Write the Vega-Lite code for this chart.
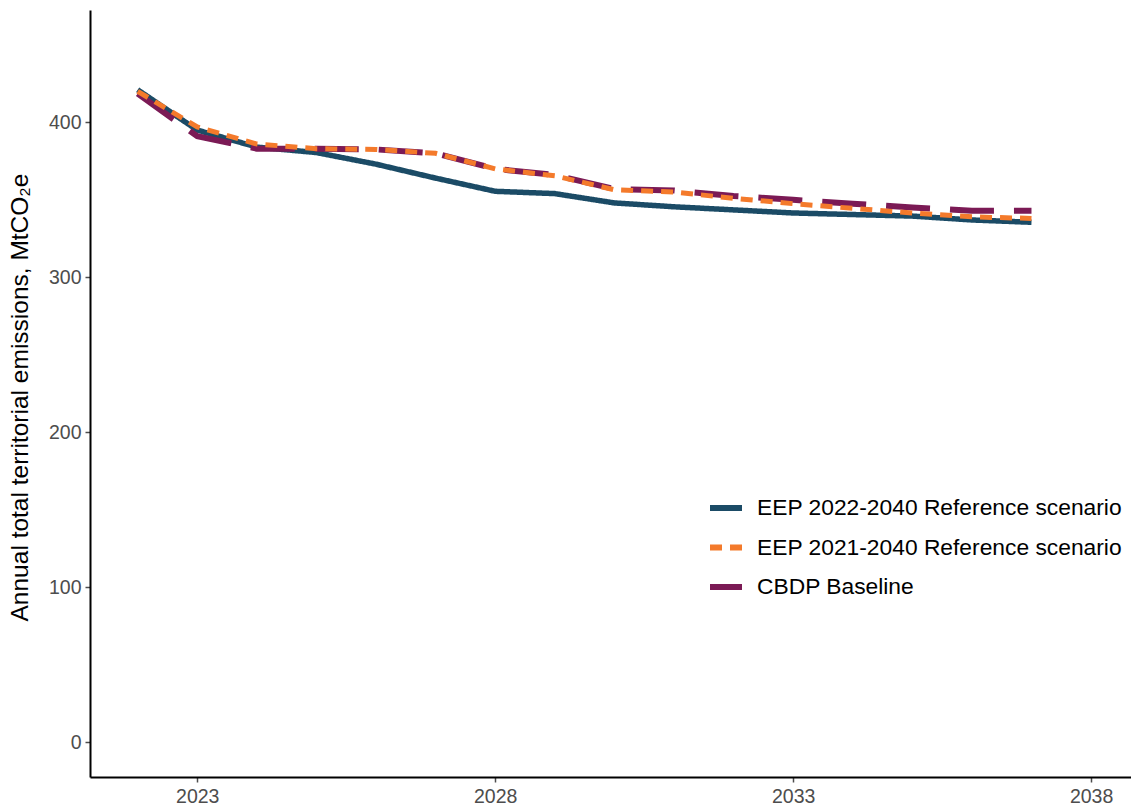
{
  "$schema": "https://vega.github.io/schema/vega-lite/v6.json",
  "width": 1041,
  "height": 767,
  "autosize": {"type": "none"},
  "padding": {"left": 90, "top": 10, "right": 0, "bottom": 34},
  "background": "white",
  "config": {
    "font": "Liberation Sans",
    "view": {"stroke": null},
    "axis": {"grid": false, "domainColor": "#000000", "domainWidth": 2, "tickColor": "#4D4D4D", "tickSize": 5, "tickWidth": 1.5, "labelColor": "#4D4D4D", "labelFontSize": 19.5, "labelPadding": 4, "titleColor": "#000000", "titleFontWeight": "normal"}
  },
  "data": {"values": [
    {"year": 2022, "value": 421, "series": "EEP 2022-2040 Reference scenario"},
    {"year": 2023, "value": 395, "series": "EEP 2022-2040 Reference scenario"},
    {"year": 2024, "value": 384, "series": "EEP 2022-2040 Reference scenario"},
    {"year": 2025, "value": 380.5, "series": "EEP 2022-2040 Reference scenario"},
    {"year": 2026, "value": 373, "series": "EEP 2022-2040 Reference scenario"},
    {"year": 2027, "value": 364, "series": "EEP 2022-2040 Reference scenario"},
    {"year": 2028, "value": 355.5, "series": "EEP 2022-2040 Reference scenario"},
    {"year": 2029, "value": 354, "series": "EEP 2022-2040 Reference scenario"},
    {"year": 2030, "value": 348, "series": "EEP 2022-2040 Reference scenario"},
    {"year": 2031, "value": 345.5, "series": "EEP 2022-2040 Reference scenario"},
    {"year": 2032, "value": 343.5, "series": "EEP 2022-2040 Reference scenario"},
    {"year": 2033, "value": 341.5, "series": "EEP 2022-2040 Reference scenario"},
    {"year": 2034, "value": 340.5, "series": "EEP 2022-2040 Reference scenario"},
    {"year": 2035, "value": 339.5, "series": "EEP 2022-2040 Reference scenario"},
    {"year": 2036, "value": 337, "series": "EEP 2022-2040 Reference scenario"},
    {"year": 2037, "value": 335.5, "series": "EEP 2022-2040 Reference scenario"},
    {"year": 2022, "value": 420, "series": "EEP 2021-2040 Reference scenario"},
    {"year": 2023, "value": 397, "series": "EEP 2021-2040 Reference scenario"},
    {"year": 2024, "value": 386, "series": "EEP 2021-2040 Reference scenario"},
    {"year": 2025, "value": 383, "series": "EEP 2021-2040 Reference scenario"},
    {"year": 2026, "value": 382.5, "series": "EEP 2021-2040 Reference scenario"},
    {"year": 2027, "value": 380, "series": "EEP 2021-2040 Reference scenario"},
    {"year": 2028, "value": 370, "series": "EEP 2021-2040 Reference scenario"},
    {"year": 2029, "value": 365.5, "series": "EEP 2021-2040 Reference scenario"},
    {"year": 2030, "value": 356.5, "series": "EEP 2021-2040 Reference scenario"},
    {"year": 2031, "value": 355, "series": "EEP 2021-2040 Reference scenario"},
    {"year": 2032, "value": 351, "series": "EEP 2021-2040 Reference scenario"},
    {"year": 2033, "value": 347.5, "series": "EEP 2021-2040 Reference scenario"},
    {"year": 2034, "value": 344.5, "series": "EEP 2021-2040 Reference scenario"},
    {"year": 2035, "value": 341.5, "series": "EEP 2021-2040 Reference scenario"},
    {"year": 2036, "value": 339, "series": "EEP 2021-2040 Reference scenario"},
    {"year": 2037, "value": 338, "series": "EEP 2021-2040 Reference scenario"},
    {"year": 2022, "value": 418.5, "series": "CBDP Baseline"},
    {"year": 2023, "value": 391, "series": "CBDP Baseline"},
    {"year": 2024, "value": 383, "series": "CBDP Baseline"},
    {"year": 2025, "value": 383, "series": "CBDP Baseline"},
    {"year": 2026, "value": 382.5, "series": "CBDP Baseline"},
    {"year": 2027, "value": 380, "series": "CBDP Baseline"},
    {"year": 2028, "value": 370, "series": "CBDP Baseline"},
    {"year": 2029, "value": 366, "series": "CBDP Baseline"},
    {"year": 2030, "value": 357, "series": "CBDP Baseline"},
    {"year": 2031, "value": 356, "series": "CBDP Baseline"},
    {"year": 2032, "value": 352.5, "series": "CBDP Baseline"},
    {"year": 2033, "value": 350, "series": "CBDP Baseline"},
    {"year": 2034, "value": 347.5, "series": "CBDP Baseline"},
    {"year": 2035, "value": 345, "series": "CBDP Baseline"},
    {"year": 2036, "value": 343, "series": "CBDP Baseline"},
    {"year": 2037, "value": 343, "series": "CBDP Baseline"}
  ]},
  "encoding": {
    "x": {"field": "year", "type": "quantitative", "scale": {"domain": [2021.2, 2038.67], "nice": false, "zero": false},
      "axis": {"values": [2023, 2028, 2033, 2038], "format": "d", "title": null, "labelPadding": 5}},
    "y": {"field": "value", "type": "quantitative", "scale": {"domain": [-22.5, 472.5], "nice": false, "zero": false},
      "axis": {"values": [0, 100, 200, 300, 400], "title": "Annual total territorial emissions, MtCO₂e", "titleFontSize": 24.5, "titleX": -70, "titleY": 387, "titleAngle": -90, "titleAlign": "center", "titleBaseline": "middle"}},
    "color": {"field": "series", "type": "nominal",
      "scale": {"domain": ["EEP 2022-2040 Reference scenario", "EEP 2021-2040 Reference scenario", "CBDP Baseline"], "range": ["#1B4B66", "#F47A2B", "#7B1A55"]},
      "legend": {"title": null, "orient": "none", "legendX": 617, "legendY": 479, "symbolType": "stroke", "symbolSize": 1024, "symbolStrokeWidth": 6, "labelFontSize": 22.8, "labelColor": "#000000", "labelOffset": 12, "rowPadding": 8.5, "padding": 0, "labelLimit": 500}},
    "strokeDash": {"field": "series", "type": "nominal",
      "scale": {"domain": ["EEP 2022-2040 Reference scenario", "EEP 2021-2040 Reference scenario", "CBDP Baseline"], "range": [[1, 0], [12, 8], [44, 20]]},
      "legend": {"title": null, "orient": "none", "legendX": 617, "legendY": 479, "symbolType": "stroke", "symbolSize": 1024, "symbolStrokeWidth": 6, "labelFontSize": 22.8, "labelColor": "#000000", "labelOffset": 12, "rowPadding": 8.5, "padding": 0, "labelLimit": 500}}
  },
  "layer": [
    {"transform": [{"filter": "datum.series === 'EEP 2022-2040 Reference scenario'"}], "mark": {"type": "line", "strokeWidth": 5.5, "strokeCap": "butt"}},
    {"transform": [{"filter": "datum.series === 'CBDP Baseline'"}], "mark": {"type": "line", "strokeWidth": 6, "strokeCap": "butt"}},
    {"transform": [{"filter": "datum.series === 'EEP 2021-2040 Reference scenario'"}], "mark": {"type": "line", "strokeWidth": 5, "strokeCap": "butt"}}
  ]
}
